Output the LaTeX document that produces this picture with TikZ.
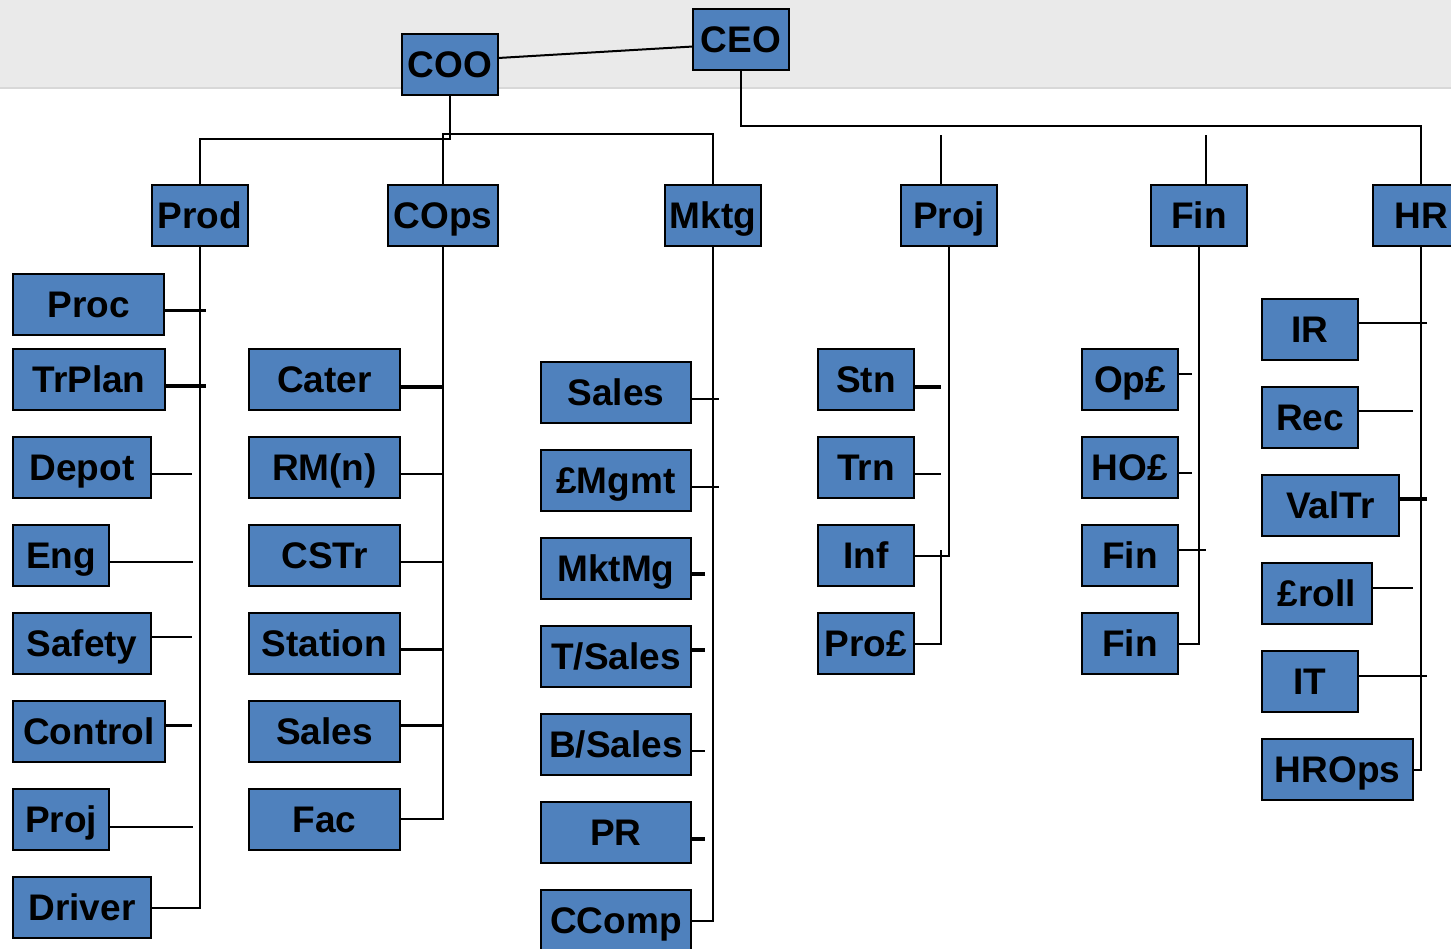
\documentclass[tikz,border=0pt]{standalone}
\usepackage{fontspec}
\setmainfont{Liberation Sans}
\definecolor{boxblue}{HTML}{4F81BD}
\definecolor{bandgray}{HTML}{EAEAEA}
\definecolor{bandline}{HTML}{D8D8D8}
% box: name, left, top, width, label (1 unit = 1pt, y grows downward)
\newcommand\bx[5]{\node[orgbox,minimum width=#4-2] (#1) at (#2+1,#3+1) {#5};}
% short stub leaving a box to the right: style, node, vertical shift, length
\newcommand\stub[4]{\draw[#1] ([yshift=#3]#2.east) -- ++(#4,0);}
\begin{document}
\begin{tikzpicture}[x=1pt,y=-1pt,
  orgbox/.style={draw=black,line width=2pt,fill=boxblue,inner sep=0pt,outer sep=0pt,
    anchor=north west,minimum height=61,text height=26.5pt,text depth=0pt,
    font=\fontsize{37}{40}\selectfont\bfseries},
  thinline/.style={line width=2pt},
  thickline/.style={line width=3.2pt}]
\useasboundingbox (0,0) rectangle (1451,948);
\clip (0,0) rectangle (1451,948);
% header band
\fill[bandgray] (0,0) rectangle (1451,88);
\draw[bandline,line width=1.5pt] (0,88) -- (1451,88);

% top level
\bx{COO}{401}{33}{98}{COO}
\bx{CEO}{692}{8}{98}{CEO}
\bx{Prod}{151}{184}{98}{Prod}
\bx{COps}{387}{184}{112}{COps}
\bx{Mktg}{664}{184}{98}{Mktg}
\bx{ProjH}{900}{184}{98}{Proj}
\bx{FinH}{1150}{184}{98}{Fin}
\bx{HR}{1372}{184}{98}{HR}

% production
\bx{Proc}{12}{273}{153}{Proc}
\bx{TrPlan}{12}{348}{154}{TrPlan}
\bx{Depot}{12}{436}{140}{Depot}
\bx{Eng}{12}{524}{98}{Eng}
\bx{Safety}{12}{612}{140}{Safety}
\bx{Control}{12}{700}{154}{Control}
\bx{ProjP}{12}{788}{98}{Proj}
\bx{Driver}{12}{876}{140}{Driver}

% customer operations
\bx{Cater}{248}{348}{153}{Cater}
\bx{RMn}{248}{436}{153}{RM(n)}
\bx{CSTr}{248}{524}{153}{CSTr}
\bx{Station}{248}{612}{153}{Station}
\bx{SalesC}{248}{700}{153}{Sales}
\bx{Fac}{248}{788}{153}{Fac}

% marketing
\bx{SalesM}{540}{361}{152}{Sales}
\bx{Mgmt}{540}{449}{152}{£Mgmt}
\bx{MktMg}{540}{537}{152}{MktMg}
\bx{TSales}{540}{625}{152}{T/Sales}
\bx{BSales}{540}{713}{152}{B/Sales}
\bx{PR}{540}{801}{152}{PR}
\bx{CComp}{540}{889}{152}{CComp}

% projects
\bx{Stn}{817}{348}{98}{Stn}
\bx{Trn}{817}{436}{98}{Trn}
\bx{Inf}{817}{524}{98}{Inf}
\bx{ProL}{817}{612}{98}{Pro£}

% finance
\bx{OpL}{1081}{348}{98}{Op£}
\bx{HOL}{1081}{436}{98}{HO£}
\bx{FinA}{1081}{524}{98}{Fin}
\bx{FinB}{1081}{612}{98}{Fin}

% human resources
\bx{IR}{1261}{298}{98}{IR}
\bx{Rec}{1261}{386}{98}{Rec}
\bx{ValTr}{1261}{474}{139}{ValTr}
\bx{Roll}{1261}{562}{112}{£roll}
\bx{IT}{1261}{650}{98}{IT}
\bx{HROps}{1261}{738}{153}{HROps}

% upper connectors
\draw[thinline] ([yshift=6.5pt]COO.east) -- ([yshift=-7pt]CEO.west);
\draw[thinline] (CEO.south) -- ++(0,56) -| (HR.north);
\draw[thinline] (COO.south) -- ++(0,44) -| (Prod.north);
\draw[thinline] (COps.north) -- ++(0,-51) -| (Mktg.north);
\draw[thinline] ([xshift=-8pt]ProjH.north) -- ++(0,-50);
\draw[thinline] ([xshift=7pt]FinH.north) -- ++(0,-50);

% production branch
\draw[thinline] (Driver.east) -| (Prod.south);
\stub{thickline}{Proc}{-6pt}{42}
\stub{thickline}{TrPlan}{-6.5pt}{41}
\stub{thinline}{Depot}{-6.5pt}{41}
\stub{thinline}{Eng}{-6.5pt}{84}
\stub{thinline}{Safety}{7pt}{41}
\stub{thickline}{Control}{6pt}{27}
\stub{thinline}{ProjP}{-7pt}{84}

% customer operations branch
\draw[thinline] ([yshift=1pt]Fac.east) -| (COps.south);
\stub{thickline}{Cater}{-7.5pt}{42}
\stub{thinline}{RMn}{-6.5pt}{42}
\stub{thinline}{CSTr}{-6.5pt}{42}
\stub{thickline}{Station}{-6pt}{42}
\stub{thickline}{SalesC}{6pt}{42}

% marketing branch
\draw[thinline] (CComp.east) -| (Mktg.south);
\stub{thinline}{SalesM}{-6.5pt}{28}
\stub{thinline}{Mgmt}{-6.5pt}{28}
\stub{thickline}{MktMg}{-5.5pt}{14}
\stub{thickline}{TSales}{6.5pt}{14}
\stub{thinline}{BSales}{-6.5pt}{14}
\stub{thickline}{PR}{-6.5pt}{14}

% projects branch
\draw[thinline] (Inf.east) -| (ProjH.south);
\draw[thinline] (ProL.east) -- ++(27,0) -- ++(0,-94);
\stub{thickline}{Stn}{-7.5pt}{27}
\stub{thinline}{Trn}{-6.5pt}{27}

% finance branch
\draw[thinline] (FinB.east) -| (FinH.south);
\stub{thinline}{OpL}{5.5pt}{14}
\stub{thinline}{HOL}{-5.5pt}{14}
\stub{thinline}{FinA}{5.5pt}{28}

% human resources branch
\draw[thinline] (HROps.east) -| (HR.south);
\stub{thinline}{IR}{6.5pt}{69}
\stub{thinline}{Rec}{6.5pt}{55}
\stub{thickline}{ValTr}{6.5pt}{28}
\stub{thinline}{Roll}{5.5pt}{41}
\stub{thinline}{IT}{5.5pt}{69}
\end{tikzpicture}
\end{document}
